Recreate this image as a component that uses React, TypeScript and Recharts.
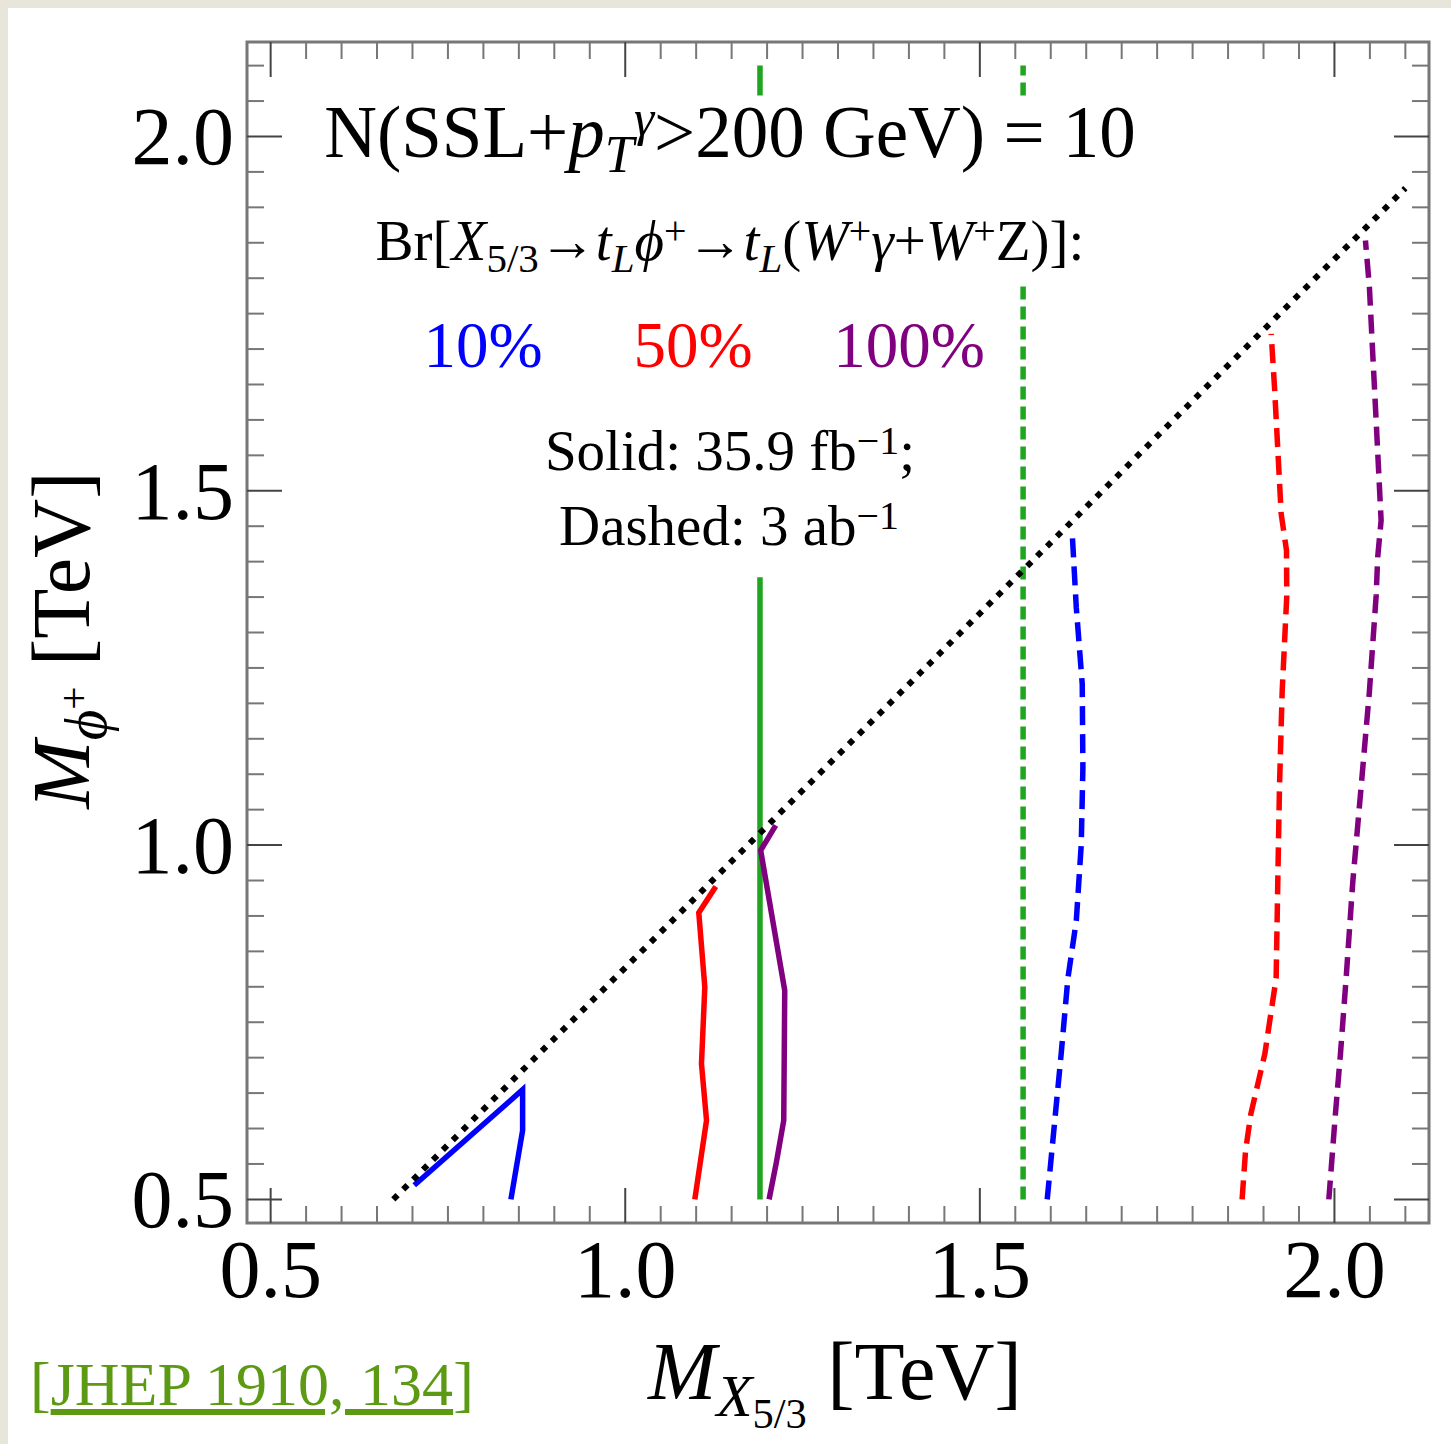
import React from "react";
import { LineChart, Line, XAxis, YAxis, ReferenceArea } from "recharts";

// axis range (TeV), same on both axes
const AXIS_MIN = 1.4 / 3;
const AXIS_MAX = 6.4 / 3;

const TICKS = [
  0.5, 0.55, 0.6, 0.65, 0.7, 0.75, 0.8, 0.85, 0.9, 0.95, 1.0, 1.05, 1.1, 1.15, 1.2, 1.25, 1.3,
  1.35, 1.4, 1.45, 1.5, 1.55, 1.6, 1.65, 1.7, 1.75, 1.8, 1.85, 1.9, 1.95, 2.0, 2.05, 2.1,
];

// [M_X, M_phi] in TeV
const threshold: [number, number][] = [
  [0.673, 0.5],
  [2.1, 1.927],
];

const blueSolid: [number, number][] = [
  [0.7025, 0.52], [0.8553, 0.6548], [0.8553, 0.5974], [0.8388, 0.5],
];
const redSolid: [number, number][] = [
  [1.0981, 0.5], [1.1146, 0.6115], [1.1075, 0.6915], [1.1122, 0.7996], [1.1037, 0.9045], [1.1277, 0.9417],
];
const purpleSolid: [number, number][] = [
  [1.2028, 0.5], [1.2132, 0.5527], [1.2235, 0.6115], [1.2249, 0.7949], [1.191, 0.9925], [1.2122, 1.0277],
];
const blueDashed: [number, number][] = [
  [1.595, 0.5], [1.6147, 0.7056], [1.6242, 0.8123], [1.636, 0.8931], [1.643, 1.0009],
  [1.6453, 1.1089], [1.6444, 1.2271], [1.636, 1.3353], [1.6303, 1.4388],
];
const redDashed: [number, number][] = [
  [1.8698, 0.5], [1.8747, 0.5691], [1.8822, 0.6209], [1.9019, 0.7056], [1.9178, 0.8123],
  [1.9201, 0.9472], [1.9225, 1.0819], [1.9263, 1.2168], [1.9328, 1.3516], [1.9324, 1.4158],
  [1.9249, 1.4675], [1.9155, 1.6462], [1.9108, 1.7215],
];
const purpleDashed: [number, number][] = [
  [1.9921, 0.5], [2.001, 0.6161], [2.0085, 0.7056], [2.0165, 0.8123], [2.0258, 0.9472],
  [2.0376, 1.0819], [2.0493, 1.2168], [2.0588, 1.3516], [2.061, 1.4063], [2.0658, 1.4581],
  [2.0588, 1.5992], [2.054, 1.6933], [2.0493, 1.7873], [2.0437, 1.8532],
];
// vertical green bounds, broken where the labels sit on top
const greenSolid: [number, number | null][] = [
  [1.19, 0.5], [1.19, 1.378], [1.19, null], [1.19, 2.058], [1.19, 2.1],
];
const greenDashed: [number, number | null][] = [
  [1.561, 0.5], [1.561, 1.79], [1.561, null], [1.561, 2.058], [1.561, 2.1],
];

const toPts = (arr: [number, number | null][]) => arr.map(([x, y]) => ({ x, y }));

const BLUE = "#0000ff";
const RED = "#ff0000";
const PURPLE = "#800080";
const GREEN = "#1fa51f";

const SERIF = '"Liberation Serif", "Times New Roman", serif';

// layout
const W = 1451;
const H = 1444;
const PLOT_LEFT = 247;
const PLOT_TOP = 42;
const PLOT_RIGHT = 1429;
const PLOT_BOTTOM = 1223;
const Y_AXIS_W = 60;
const X_AXIS_H = 60;

const LW = 5.5;
const DASH = "19 9";

const isMajor = (v: number) => Math.abs(v * 2 - Math.round(v * 2)) < 1e-6;

function XTick(props: any) {
  const { x, y, payload } = props;
  const major = isMajor(payload.value);
  const len = major ? 35 : 17;
  const col = major ? "#444" : "#777";
  const top = y - (PLOT_BOTTOM - PLOT_TOP);
  return (
    <g>
      <line x1={x} y1={y} x2={x} y2={y - len} stroke={col} strokeWidth={2} />
      <line x1={x} y1={top} x2={x} y2={top + len} stroke={col} strokeWidth={2} />
      {major && (
        <text x={x} y={y + 74} textAnchor="middle" fontFamily={SERIF} fontSize={82} fill="#000">
          {payload.value.toFixed(1)}
        </text>
      )}
    </g>
  );
}

function YTick(props: any) {
  const { x, y, payload } = props;
  const major = isMajor(payload.value);
  const len = major ? 35 : 17;
  const col = major ? "#444" : "#777";
  const right = x + (PLOT_RIGHT - PLOT_LEFT);
  return (
    <g>
      <line x1={x} y1={y} x2={x + len} y2={y} stroke={col} strokeWidth={2} />
      <line x1={right} y1={y} x2={right - len} y2={y} stroke={col} strokeWidth={2} />
      {major && (
        <text x={x - 13} y={y + 28} textAnchor="end" fontFamily={SERIF} fontSize={82} fill="#000">
          {payload.value.toFixed(1)}
        </text>
      )}
    </g>
  );
}

const Sup = ({ children }: { children: React.ReactNode }) => (
  <span style={{ position: "relative", top: "-0.42em", fontSize: "0.7em" }}>{children}</span>
);
const Sub = ({ children }: { children: React.ReactNode }) => (
  <span style={{ position: "relative", top: "0.28em", fontSize: "0.72em" }}>{children}</span>
);

// text placed by baseline and centre
function Label({
  cx,
  baseline,
  size,
  color = "#000",
  children,
}: {
  cx: number;
  baseline: number;
  size: number;
  color?: string;
  children: React.ReactNode;
}) {
  return (
    <div
      style={{
        position: "absolute",
        left: cx,
        top: baseline - 0.8375 * size,
        transform: "translateX(-50%)",
        whiteSpace: "nowrap",
        fontFamily: SERIF,
        fontSize: size,
        lineHeight: 1,
        color,
      }}
    >
      {children}
    </div>
  );
}

export default function App() {
  return (
    <div style={{ position: "absolute", left: 0, top: 0, width: W, height: H, background: "#e8e5da" }}>
      <div style={{ position: "absolute", left: 8, top: 8, width: W - 8, height: H - 8, background: "#fff" }} />
      <div style={{ position: "absolute", left: 0, top: 0 }}>
        <LineChart
          width={W}
          height={H}
          margin={{
            top: PLOT_TOP,
            left: PLOT_LEFT - Y_AXIS_W,
            right: W - PLOT_RIGHT,
            bottom: H - PLOT_BOTTOM - X_AXIS_H,
          }}
        >
          <XAxis
            type="number"
            dataKey="x"
            domain={[AXIS_MIN, AXIS_MAX]}
            allowDataOverflow
            ticks={TICKS}
            interval={0}
            tickSize={0}
            tickMargin={0}
            height={X_AXIS_H}
            axisLine={false}
            tick={(p: any) => <XTick {...p} />}
          />
          <YAxis
            type="number"
            dataKey="y"
            domain={[AXIS_MIN, AXIS_MAX]}
            allowDataOverflow
            ticks={TICKS}
            interval={0}
            tickSize={0}
            tickMargin={0}
            width={Y_AXIS_W}
            axisLine={false}
            tick={(p: any) => <YTick {...p} />}
          />
          <ReferenceArea
            x1={AXIS_MIN}
            x2={AXIS_MAX}
            y1={AXIS_MIN}
            y2={AXIS_MAX}
            fill="none"
            fillOpacity={0}
            stroke="#777"
            strokeWidth={3}
            ifOverflow="visible"
          />
          <Line data={toPts(greenSolid)} dataKey="y" type="linear" stroke={GREEN} strokeWidth={LW} dot={false} isAnimationActive={false} />
          <Line data={toPts(greenDashed)} dataKey="y" type="linear" stroke={GREEN} strokeWidth={LW} strokeDasharray="13 7" dot={false} isAnimationActive={false} />
          <Line data={toPts(blueSolid)} dataKey="y" type="linear" stroke={BLUE} strokeWidth={LW} dot={false} isAnimationActive={false} />
          <Line data={toPts(redSolid)} dataKey="y" type="linear" stroke={RED} strokeWidth={LW} dot={false} isAnimationActive={false} />
          <Line data={toPts(purpleSolid)} dataKey="y" type="linear" stroke={PURPLE} strokeWidth={LW} dot={false} isAnimationActive={false} />
          <Line data={toPts(blueDashed)} dataKey="y" type="linear" stroke={BLUE} strokeWidth={LW} strokeDasharray={DASH} dot={false} isAnimationActive={false} />
          <Line data={toPts(redDashed)} dataKey="y" type="linear" stroke={RED} strokeWidth={LW} strokeDasharray={DASH} dot={false} isAnimationActive={false} />
          <Line data={toPts(purpleDashed)} dataKey="y" type="linear" stroke={PURPLE} strokeWidth={LW} strokeDasharray={DASH} dot={false} isAnimationActive={false} />
          <Line data={toPts(threshold)} dataKey="y" type="linear" stroke="#000" strokeWidth={6} strokeDasharray="6 8" dot={false} isAnimationActive={false} />
        </LineChart>
      </div>

      {/* in-plot annotations */}
      <Label cx={730} baseline={157} size={73}>
        N(SSL+<i>p</i>
        <Sub>
          <i>T</i>
        </Sub>
        <Sup>
          <i>γ</i>
        </Sup>
        &gt;200 GeV) = 10
      </Label>
      <Label cx={730} baseline={260} size={57}>
        Br[<i>X</i>
        <Sub>5/3</Sub>→<i>t</i>
        <Sub>
          <i>L</i>
        </Sub>
        <i>ϕ</i>
        <Sup>+</Sup>→<i>t</i>
        <Sub>
          <i>L</i>
        </Sub>
        (<i>W</i>
        <Sup>+</Sup>
        <i>γ</i>+<i>W</i>
        <Sup>+</Sup>Z)]:
      </Label>
      <Label cx={483} baseline={367} size={65} color={BLUE}>
        10%
      </Label>
      <Label cx={693} baseline={367} size={65} color={RED}>
        50%
      </Label>
      <Label cx={909} baseline={367} size={65} color={PURPLE}>
        100%
      </Label>
      <Label cx={730} baseline={470} size={57}>
        Solid: 35.9 fb<Sup>−1</Sup>;
      </Label>
      <Label cx={729} baseline={545} size={57}>
        Dashed: 3 ab<Sup>−1</Sup>
      </Label>

      {/* axis titles */}
      <Label cx={835} baseline={1400} size={82}>
        <i>M</i>
        <Sub>
          <i>X</i>
          <Sub>5/3</Sub>
        </Sub>{" "}
        [TeV]
      </Label>
      <div
        style={{
          position: "absolute",
          left: 62,
          top: 640,
          transform: "translate(-50%, -50%) rotate(-90deg)",
          whiteSpace: "nowrap",
          fontFamily: SERIF,
          fontSize: 82,
          lineHeight: 1,
        }}
      >
        <i>M</i>
        <Sub>
          <i>ϕ</i>
          <Sup>+</Sup>
        </Sub>{" "}
        [TeV]
      </div>

      {/* reference */}
      <div
        style={{
          position: "absolute",
          left: 30,
          top: 1405 - 0.8375 * 62,
          fontFamily: SERIF,
          fontSize: 62,
          lineHeight: 1,
          color: "#5b9a12",
          whiteSpace: "nowrap",
        }}
      >
        [<span style={{ textDecoration: "underline" }}>JHEP 1910, 134</span>]
      </div>
    </div>
  );
}
